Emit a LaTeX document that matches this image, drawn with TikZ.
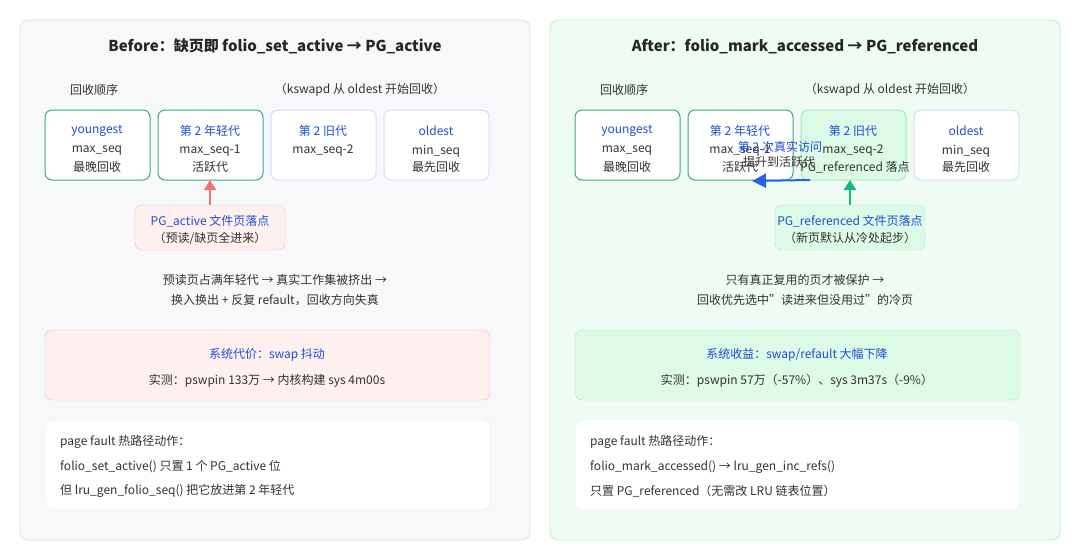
\documentclass[tikz,border=0pt]{standalone}
\usepackage{fontspec}
\setmainfont{Noto Sans CJK SC}
\usetikzlibrary{arrows.meta}
\definecolor{tx}{HTML}{333333}
\definecolor{bl}{HTML}{1D4ED8}
\definecolor{gb}{HTML}{3BAA85}
\definecolor{pb}{HTML}{D6DDF7}
\definecolor{lpanel}{HTML}{F7F8FA}
\definecolor{rpanelb}{HTML}{BEECCD}
\definecolor{rpanel}{HTML}{EFFCF3}
\definecolor{gline}{HTML}{A6E9BD}
\definecolor{gfill}{HTML}{DCFAE6}
\definecolor{pline}{HTML}{F8B4B4}
\definecolor{pfill}{HTML}{FFF0F0}
\definecolor{redarr}{HTML}{F47272}
\definecolor{grarr}{HTML}{10B981}
\definecolor{blarr}{HTML}{2563EB}
\begin{document}
\begin{tikzpicture}[x=1pt,y=-1pt,font=\fontsize{12}{14}\selectfont,
 panel/.style={draw=#1,rounded corners=8,line width=0.8},
 gen/.style={draw=#1,fill=white,rounded corners=7,line width=1},
 t/.style={text=tx,inner sep=0},
 bt/.style={text=bl,inner sep=0}]
\useasboundingbox (0,0) rectangle (1080,560);
\fill[white] (0,0) rectangle (1080,560);
\draw[panel=black!12,fill=lpanel] (20,20) rectangle (530,540);
\draw[panel=rpanelb,fill=rpanel] (550,20) rectangle (1060,540);
\node[t,font=\fontsize{15}{17}\selectfont\bfseries,text=black!85] (tl) at (275,46) {Before：缺页即 folio\_set\_active → PG\_active};
\node[t,font=\fontsize{15}{17}\selectfont\bfseries,text=black!85] (tr) at (805,46) {After：folio\_mark\_accessed → PG\_referenced};
\foreach \o/\p in {0/l,530/r}{
 \node[t] (ord\p) at (94+\o,90) {回收顺序};
 \node[t] (ks\p) at (360+\o,90) {（kswapd 从 oldest 开始回收）};
}
\draw[gen=gb] (45,110) rectangle (150,180); \draw[gen=gb] (158,110) rectangle (263,180);
\draw[gen=pb] (271,110) rectangle (376,180); \draw[gen=pb] (384,110) rectangle (489,180);
\draw[gen=gb] (575,110) rectangle (680,180); \draw[gen=gb] (688,110) rectangle (793,180);
\draw[gen=gline,fill=gfill] (801,110) rectangle (906,180); \draw[gen=pb] (914,110) rectangle (1019,180);
\foreach \o/\p in {0/l,530/r}{
 \node[bt] (y\p) at (97+\o,131) {youngest}; \node[t] at (97+\o,151) {max\_seq}; \node[t] at (97+\o,167) {最晚回收};
 \node[bt] (a\p) at (210+\o,131) {第 2 年轻代}; \node[t] at (210+\o,151) {max\_seq-1}; \node[t] at (210+\o,167) {活跃代};
 \node[bt] (o\p) at (323+\o,131) {第 2 旧代}; \node[t] at (323+\o,151) {max\_seq-2};
 \node[bt] (od\p) at (436+\o,131) {oldest}; \node[t] at (436+\o,151) {min\_seq}; \node[t] at (436+\o,167) {最先回收};
}
\node[t] (prl) at (855,167) {PG\_referenced 落点};
\draw[rounded corners=7,draw=pline,fill=pfill] (135,205) rectangle (285,250);
\node[bt] (cl) at (210,221) {PG\_active 文件页落点};
\node[t] (cl2) at (210,238) {（预读/缺页全进来）};
\draw[-{Triangle[length=10,width=12]},line width=1.8,draw=redarr] (210,205) -- (210,180);
\draw[rounded corners=7,draw=gline,fill=gfill] (775,205) rectangle (925,250);
\node[bt] (cr) at (850,221) {PG\_referenced 文件页落点};
\node[t] (cr2) at (850,238) {（新页默认从冷处起步）};
\draw[-{Triangle[length=10,width=12]},line width=1.8,draw=grarr] (850,205) -- (850,180);
\draw[-{Triangle[length=14,width=14]},line width=2,draw=blarr] (810,180) -- (752,181);
\node[bt] (acc) at (780,147) {第 2 次真实访问};
\node[t] (acc2) at (779,162) {提升到活跃代};
\node[t] at (275,280) {预读页占满年轻代 → 真实工作集被挤出 →};
\node[t] at (275,300) {换入换出 + 反复 refault，回收方向失真};
\node[t] at (805,280) {只有真正复用的页才被保护 →};
\node[t] at (805,300) {回收优先选中"读进来但没用过"的冷页};
\draw[rounded corners=7,draw=pline,fill=pfill] (45,330) rectangle (490,400);
\node[bt] at (267,355) {系统代价：swap 抖动};
\node[t] at (267,381) {实测：pswpin 133万 → 内核构建 sys 4m00s};
\draw[rounded corners=7,draw=gline,fill=gfill] (575,330) rectangle (1020,400);
\node[bt] at (797,355) {系统收益：swap/refault 大幅下降};
\node[t] at (797,381) {实测：pswpin 57万（-57\%）、sys 3m37s（-9\%）};
\draw[rounded corners=7,draw=black!10,fill=white] (45,420) rectangle (490,510);
\draw[rounded corners=7,draw=black!10,fill=white] (575,420) rectangle (1020,510);
\node[t,anchor=west] at (60,442) {page fault 热路径动作：};
\node[t,anchor=west] at (60,467) {folio\_set\_active() 只置 1 个 PG\_active 位};
\node[t,anchor=west] at (60,491) {但 lru\_gen\_folio\_seq() 把它放进第 2 年轻代};
\node[t,anchor=west] at (590,442) {page fault 热路径动作：};
\node[t,anchor=west] at (590,467) {folio\_mark\_accessed() → lru\_gen\_inc\_refs()};
\node[t,anchor=west] at (590,491) {只置 PG\_referenced（无需改 LRU 链表位置）};
\end{tikzpicture}
\end{document}
